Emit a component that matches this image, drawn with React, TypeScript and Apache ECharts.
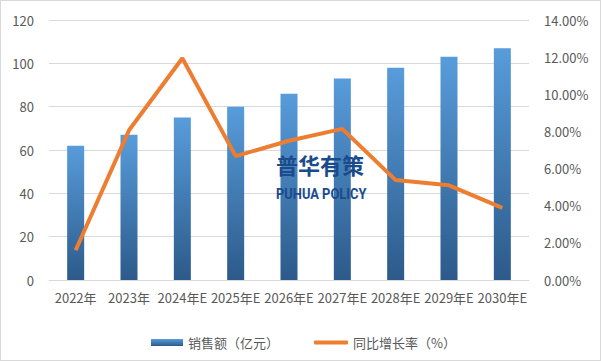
import React, { useEffect, useRef } from "react";
import * as echarts from "echarts";

const categories = ["2022年", "2023年", "2024年E", "2025年E", "2026年E", "2027年E", "2028年E", "2029年E", "2030年E"];
const salesValues = [62, 67, 75, 80, 86, 93, 98, 103, 107];
const growthValues = [1.6, 8.06, 11.94, 6.67, 7.5, 8.14, 5.38, 5.1, 3.88];
const barName = "销售额（亿元）";
const lineName = "同比增长率（%）";

export default function App() {
  const ref = useRef<HTMLDivElement>(null);
  useEffect(() => {
    document.body.style.margin = "0";
    const chart = echarts.init(ref.current!, null, { renderer: "svg" });
    const font = "'Noto Sans CJK SC', 'Noto Sans', sans-serif";
    const labelColor = "#595959";
    chart.setOption({
      animation: false,
      backgroundColor: "#ffffff",
      textStyle: { fontFamily: font },
      grid: { left: 48, right: 71, top: 19, bottom: 80 },
      legend: [
        {
          left: 145,
          top: 330,
          data: [barName],
          itemWidth: 32,
          itemHeight: 7,
          icon: "rect",
          textStyle: { color: labelColor, fontSize: 13, fontFamily: font },
        },
        {
          left: 308,
          top: 330,
          data: [{ name: lineName, icon: "roundRect" }],
          itemWidth: 34,
          itemHeight: 4,
          textStyle: { color: labelColor, fontSize: 13, fontFamily: font },
        },
      ],
      xAxis: {
        type: "category",
        data: categories,
        axisLine: { lineStyle: { color: "#d9d9d9" } },
        axisTick: { show: false },
        axisLabel: { color: labelColor, fontSize: 13, interval: 0, margin: 11, fontFamily: font },
      },
      yAxis: [
        {
          type: "value",
          min: 0,
          max: 120,
          interval: 20,
          axisLine: { show: false },
          axisTick: { show: false },
          axisLabel: { color: labelColor, fontSize: 13, margin: 15, fontFamily: font },
          splitLine: { lineStyle: { color: "#d9d9d9" } },
        },
        {
          type: "value",
          min: 0,
          max: 14,
          interval: 2,
          axisLine: { show: false },
          axisTick: { show: false },
          axisLabel: {
            color: labelColor,
            fontSize: 13,
            margin: 15,
            fontFamily: font,
            formatter: (v: number) => v.toFixed(2) + "%",
          },
          splitLine: { show: false },
        },
      ],
      series: [
        {
          name: barName,
          type: "bar",
          data: salesValues,
          barWidth: 17,
          itemStyle: {
            color: new echarts.graphic.LinearGradient(0, 0, 0, 1, [
              { offset: 0, color: "#589cdb" },
              { offset: 1, color: "#2c5a8a" },
            ]),
          },
        },
        {
          name: lineName,
          type: "line",
          yAxisIndex: 1,
          data: growthValues,
          symbol: "none",
          lineStyle: { color: "#ed7d31", width: 4 },
          itemStyle: { color: "#ed7d31" },
          z: 3,
        },
      ],
      graphic: [
        {
          type: "text",
          left: 275,
          top: 152,
          z: 10,
          style: {
            text: "普华有策",
            fill: "#1a4b8c",
            font: "bold 22px 'Noto Sans CJK SC', sans-serif",
          },
        },
        {
          type: "text",
          x: 275,
          y: 185,
          scaleX: 0.86,
          z: 10,
          style: {
            text: "PUHUA POLICY",
            fill: "#1a4b8c",
            font: "bold 15px Roboto, 'Noto Sans', sans-serif",
          },
        },
      ],
    });
    return () => chart.dispose();
  }, []);
  return (
    <div
      ref={ref}
      style={{
        position: "absolute",
        left: 0,
        top: 0,
        width: 601,
        height: 361,
        boxSizing: "border-box",
        border: "1px solid #d9d9d9",
      }}
    />
  );
}
